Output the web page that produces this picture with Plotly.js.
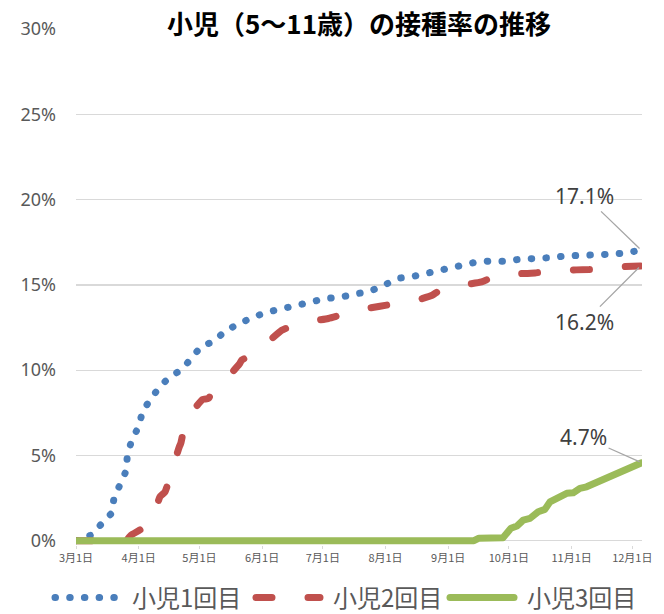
<!DOCTYPE html>
<html>
<head>
<meta charset="utf-8">
<script src="https://cdn.plot.ly/plotly-3.0.1.min.js"></script>
<style>
html, body { margin: 0; padding: 0; background: #fff; }
#chart { width: 664px; height: 614px; }
.js-line { stroke-linecap: round !important; stroke-linejoin: round !important; }
</style>
</head>
<body>
<div id="chart"></div>
<script>
// ---- data (percent values) ----
const seriesNames = ['小児1回目', '小児2回目', '小児3回目'];

const dose1Dates = ['2022-03-01','2022-03-08 07:00','2022-03-12 22:00','2022-03-18 14:00','2022-03-19 19:00','2022-03-22 17:00','2022-03-25 17:00','2022-03-26 10:00','2022-03-28 12:00','2022-04-01 02:00','2022-04-03','2022-04-07 10:00','2022-04-11 10:00','2022-04-16 12:00','2022-04-22 17:00','2022-04-27 07:00','2022-05-01 22:00','2022-05-08 10:00','2022-05-14','2022-05-20 17:00','2022-05-27 07:00','2022-06-03 14:00','2022-06-10 17:00','2022-06-17 22:00','2022-06-25 05:00','2022-07-02 14:00','2022-07-10 02:00','2022-07-17 14:00','2022-07-24 19:00','2022-07-31 22:00','2022-08-07 12:00','2022-08-15 02:00','2022-08-22 07:00','2022-08-29 17:00','2022-09-05 22:00','2022-09-13 10:00','2022-09-20 19:00','2022-09-28 14:00','2022-10-06 12:00','2022-10-14 05:00','2022-10-22 02:00','2022-10-29 14:00','2022-11-06 07:00','2022-11-14','2022-11-21 14:00','2022-11-29 12:00','2022-12-05 07:00'];
const dose1Values = [0,0.32,0.90,1.61,2.50,3.30,4.08,5.02,5.88,6.72,7.64,8.36,9.06,9.59,10.08,10.74,11.39,11.70,12.33,12.72,13.10,13.40,13.61,13.85,14.08,14.20,14.29,14.51,14.65,15.02,15.39,15.51,15.70,15.91,16.11,16.30,16.39,16.39,16.50,16.50,16.60,16.70,16.70,16.80,16.80,16.90,17.05];

const dose2Dates = ['2022-03-01','2022-03-13','2022-03-25 17:00','2022-03-28 05:00','2022-04-01 14:00','2022-04-06 14:00','2022-04-09','2022-04-11 12:00','2022-04-14','2022-04-15 05:00','2022-04-16 19:00','2022-04-21 02:00','2022-04-21 19:00','2022-04-23','2022-04-23 22:00','2022-05-02 14:00','2022-05-05 10:00','2022-05-07 22:00','2022-05-11 05:00','2022-05-20 17:00','2022-05-21 22:00','2022-05-25 05:00','2022-05-29 07:00','2022-06-10 17:00','2022-06-14 19:00','2022-06-20 14:00','2022-07-03 17:00','2022-07-09 12:00','2022-07-16 02:00','2022-07-29 07:00','2022-08-04 22:00','2022-08-11 12:00','2022-08-24 02:00','2022-08-27 22:00','2022-09-04 10:00','2022-09-17 12:00','2022-09-23 07:00','2022-09-30 17:00','2022-10-13 22:00','2022-10-21 07:00','2022-10-27 22:00','2022-11-09 17:00','2022-11-16 14:00','2022-11-23 07:00','2022-12-05'];
const dose2Values = [0,0,0,0.33,0.63,1.11,1.68,2.58,2.87,3.26,3.91,5.51,5.71,6.39,6.97,8.28,8.34,8.83,9.12,10.35,10.59,10.78,11.07,12.34,12.54,12.77,13.03,13.22,13.47,13.75,13.87,13.94,14.39,14.69,14.92,15.17,15.47,15.62,15.70,15.82,15.86,15.90,15.96,16.05,16.10];

const dose3Dates = ['2022-03-01','2022-09-13 17:00','2022-09-16 05:00','2022-09-28 02:00','2022-10-02','2022-10-05','2022-10-08 02:00','2022-10-11 10:00','2022-10-15 12:00','2022-10-18 19:00','2022-10-21 07:00','2022-10-24 14:00','2022-10-29 14:00','2022-11-01 19:00','2022-11-05 02:00','2022-11-08 10:00','2022-11-12 14:00','2022-11-16 17:00','2022-11-20 19:00','2022-11-24 22:00','2022-11-28 05:00','2022-12-01 12:00','2022-12-05 14:00'];
const dose3Values = [0,0,0.15,0.18,0.73,0.86,1.21,1.31,1.70,1.84,2.28,2.48,2.78,2.81,3.07,3.16,3.36,3.56,3.79,4.04,4.14,4.34,4.57];

const endLabels = ['17.1%', '16.2%', '4.7%'];

const tickDates = ['2022-03-01','2022-04-01','2022-05-01','2022-06-01','2022-07-01','2022-08-01','2022-09-01','2022-10-01','2022-11-01','2022-12-01'];
const tickLabels = ['3月1日','4月1日','5月1日','6月1日','7月1日','8月1日','9月1日','10月1日','11月1日','12月1日'];
const yTicks = [0, 5, 10, 15, 20, 25, 30];
const yTickLabels = ['0%', '5%', '10%', '15%', '20%', '25%', '30%'];

// ---- chart ----
const colors = ['#4A7EBB', '#C0504D', '#9BBB59'];
const traces = [
  { x: dose1Dates, y: dose1Values, name: seriesNames[0], type: 'scatter', mode: 'lines', legend: 'legend',
    line: { color: colors[0], width: 7, dash: '0.5px,14.2px' }, hoverinfo: 'skip' },
  { x: dose2Dates, y: dose2Values, name: seriesNames[1], type: 'scatter', mode: 'lines', legend: 'legend2',
    line: { color: colors[1], width: 7, dash: '16px,36px', shape: 'spline', smoothing: 0.5 }, hoverinfo: 'skip' },
  { x: dose3Dates, y: dose3Values, name: seriesNames[2], type: 'scatter', mode: 'lines', legend: 'legend3',
    line: { color: colors[2], width: 7 }, hoverinfo: 'skip' }
];

const last = a => a[a.length - 1];
const annFont = { family: 'Noto Sans, sans-serif', size: 21, color: '#404040' };
const annBase = { showarrow: true, arrowhead: 0, arrowcolor: '#A6A6A6', arrowwidth: 1.3, standoff: 2, font: annFont, xref: 'x', yref: 'y' };

const legendFont = { family: 'Noto Sans CJK JP, sans-serif', size: 24, color: '#595959' };
function legendAt(px) {
  return {
    orientation: 'h',
    xref: 'container', x: px / 664, xanchor: 'left',
    yref: 'container', y: 1 - 598 / 614, yanchor: 'middle',
    itemwidth: 75, font: legendFont, bgcolor: 'rgba(0,0,0,0)'
  };
}

const layout = {
  width: 664, height: 614,
  margin: { l: 76, r: 22, t: 29, b: 69, pad: 0 },
  paper_bgcolor: '#ffffff', plot_bgcolor: '#ffffff',
  title: {
    text: '小児（5～11歳）の接種率の推移',
    font: { family: 'Noto Sans CJK JP, sans-serif', size: 26, color: '#000000', weight: 'bold' },
    x: 0.5, xref: 'paper', xanchor: 'center',
    y: 1 - 25 / 614, yref: 'container', yanchor: 'middle'
  },
  xaxis: {
    type: 'date',
    range: ['2022-03-01', '2022-12-05 19:00'],
    tickmode: 'array', tickvals: tickDates, ticktext: tickLabels,
    tickfont: { family: 'Noto Sans CJK JP, sans-serif', size: 11, color: '#595959' },
    ticks: 'outside', ticklen: 3, tickcolor: '#D9D9D9',
    showgrid: false, showline: false, zeroline: false
  },
  yaxis: {
    range: [-0.25, 30],
    tickmode: 'array', tickvals: yTicks, ticktext: yTickLabels,
    tickfont: { family: 'Noto Sans, sans-serif', size: 18, color: '#595959' },
    ticks: '', ticklabelstandoff: 19,
    showgrid: true, gridcolor: '#D9D9D9', gridwidth: 1.3,
    zeroline: true, zerolinecolor: '#D9D9D9', zerolinewidth: 1.3,
    showline: false
  },
  showlegend: true,
  legend: legendAt(47),
  legend2: legendAt(248),
  legend3: legendAt(442),
  annotations: [
    Object.assign({}, annBase, { x: last(dose1Dates), y: last(dose1Values), text: endLabels[0], ax: -56, ay: -54 }),
    Object.assign({}, annBase, { x: last(dose2Dates), y: last(dose2Values), text: endLabels[1], ax: -56, ay: 56 }),
    Object.assign({}, annBase, { x: last(dose3Dates), y: last(dose3Values), text: endLabels[2], ax: -58, ay: -26 })
  ]
};

Plotly.newPlot('chart', traces, layout, { staticPlot: true, displayModeBar: false }).then(function () {
  document.querySelectorAll('.legendlines path').forEach(function (p) {
    p.setAttribute('d', 'M8,0h64');
  });
});
</script>
</body>
</html>
